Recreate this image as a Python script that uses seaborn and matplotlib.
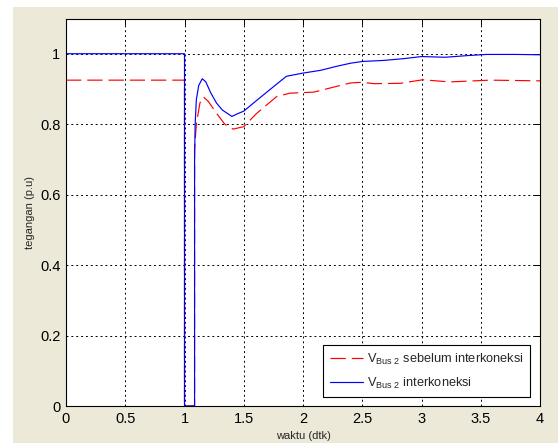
import numpy as np
import pandas as pd
import matplotlib
matplotlib.use("Agg")
import matplotlib.pyplot as plt
import seaborn as sns
from matplotlib.patches import Rectangle

# data
t_red = [0, 1.0, 1.0, 1.085, 1.085, 1.10, 1.13, 1.16, 1.20, 1.27, 1.34, 1.41, 1.50,
         1.61, 1.78, 1.89, 2.09, 2.28, 2.40, 2.50, 2.60, 2.82, 3.01, 3.24, 3.58, 4.0]
v_red = [0.925, 0.925, 0.0, 0.0, 0.73, 0.80, 0.86, 0.877, 0.865, 0.831, 0.80, 0.786, 0.793,
         0.831, 0.879, 0.888, 0.891, 0.907, 0.917, 0.919, 0.915, 0.916, 0.926, 0.920, 0.925, 0.923]

t_blue = [0, 1.0, 1.0, 1.085, 1.085, 1.09, 1.10, 1.12, 1.15, 1.18, 1.22, 1.27, 1.32, 1.40,
          1.45, 1.50, 1.60, 1.72, 1.86, 2.0, 2.15, 2.28, 2.40, 2.50, 2.68, 2.85, 3.0, 3.2,
          3.4, 3.55, 3.8, 4.0]
v_blue = [1.0, 1.0, 0.0, 0.0, 0.70, 0.80, 0.87, 0.91, 0.929, 0.92, 0.89, 0.86, 0.84, 0.822,
          0.83, 0.837, 0.865, 0.898, 0.936, 0.945, 0.953, 0.964, 0.973, 0.978, 0.981, 0.986,
          0.992, 0.99, 0.995, 0.998, 0.998, 0.997]

label_red = r"V$_{\mathregular{Bus\ 2}}$ sebelum interkoneksi"
label_blue = r"V$_{\mathregular{Bus\ 2}}$ interkoneksi"

x_ticks = [0, 0.5, 1, 1.5, 2, 2.5, 3, 3.5, 4]
x_ticklabels = ["0", "0.5", "1", "1.5", "2", "2.5", "3", "3.5", "4"]
y_ticks = [0, 0.2, 0.4, 0.6, 0.8, 1]
y_ticklabels = ["0", "0.2", "0.4", "0.6", "0.8", "1"]

sns.set_style("white")
plt.rcParams['font.family'] = ['Liberation Sans', 'DejaVu Sans']

fig = plt.figure(figsize=(5.58, 4.43), dpi=100, facecolor="white")
# beige matlab window background
fig.patches.append(Rectangle((13 / 558, 0.0), 1 - 13 / 558, 1 - 7 / 443,
                             transform=fig.transFigure, facecolor="#ECE9D8",
                             edgecolor="none", zorder=-10))
ax = fig.add_axes([66 / 558, 37 / 443, 474 / 558, 387.5 / 443])
ax.set_facecolor("white")

df_red = pd.DataFrame({"t": t_red, "v": v_red})
df_blue = pd.DataFrame({"t": t_blue, "v": v_blue})

sns.lineplot(data=df_red, x="t", y="v", ax=ax, color="#FF0000", lw=0.85,
             estimator=None, sort=False, label=label_red)
ax.lines[-1].set_dashes((13, 5))
sns.lineplot(data=df_blue, x="t", y="v", ax=ax, color="#0000FF", lw=0.85,
             estimator=None, sort=False, label=label_blue)

ax.set_xlim(0, 4)
ax.set_ylim(0, 1.1)
ax.set_xticks(x_ticks)
ax.set_xticklabels(x_ticklabels)
ax.set_yticks(y_ticks)
ax.set_yticklabels(y_ticklabels)
ax.tick_params(direction="in", length=4, width=0.7, labelsize=10.5, colors="black",
               top=True, right=True, pad=4)
ax.grid(True, color="black", linestyle=(0, (2, 3)), linewidth=0.7)
for s in ax.spines.values():
    s.set_visible(True)
    s.set_color("black")
    s.set_linewidth(0.8)

ax.set_xlabel("waktu (dtk)", fontsize=8, labelpad=4)
ax.set_ylabel("tegangan (p.u)", fontsize=8, labelpad=4)

leg = ax.legend(loc="lower right", bbox_to_anchor=(0.979, 0.023), borderaxespad=0,
                fontsize=9.2, fancybox=False, framealpha=1, edgecolor="black",
                handlelength=2.6, handletextpad=0.3, borderpad=0.5, labelspacing=0.7)
leg.get_frame().set_linewidth(0.8)

fig.savefig("out.png", dpi=100, facecolor=fig.get_facecolor())
